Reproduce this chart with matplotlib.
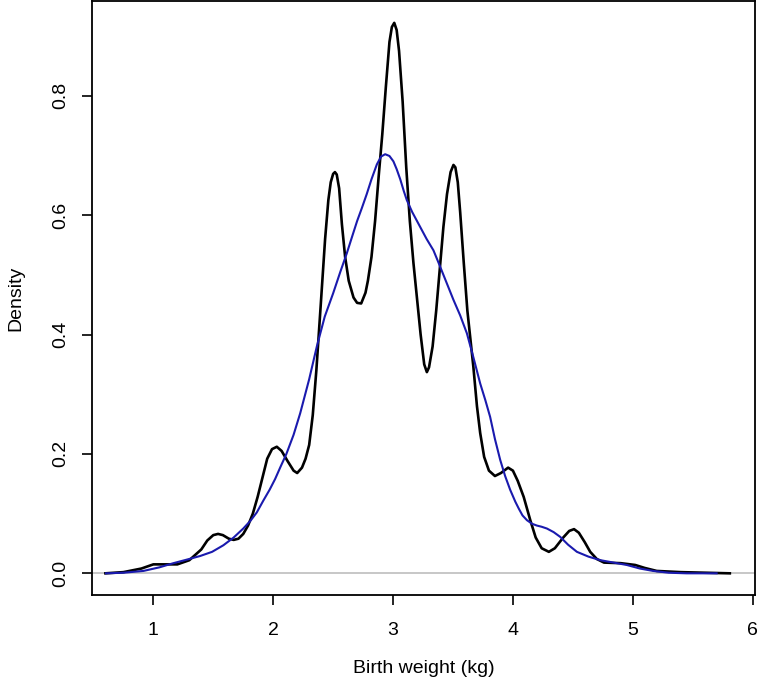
import matplotlib
matplotlib.use("Agg")
import matplotlib.pyplot as plt

plt.rcParams['font.family'] = ['Liberation Sans', 'DejaVu Sans']

# black density curve (narrow bandwidth)
black_x = [0.60, 0.75, 0.90, 1.00, 1.10, 1.20, 1.30, 1.40, 1.45, 1.50, 1.54, 1.58,
           1.63, 1.67, 1.71, 1.75, 1.79, 1.83, 1.87, 1.91, 1.95, 1.99, 2.03, 2.07,
           2.12, 2.17, 2.20, 2.24, 2.27, 2.30, 2.33, 2.36, 2.40, 2.433, 2.46, 2.48,
           2.50, 2.515, 2.53, 2.55, 2.573, 2.60, 2.63, 2.67, 2.70, 2.734, 2.77, 2.79,
           2.82, 2.85, 2.88, 2.91, 2.94, 2.97, 2.99, 3.01, 3.03, 3.05, 3.08, 3.11,
           3.14, 3.17, 3.20, 3.23, 3.26, 3.282, 3.30, 3.33, 3.36, 3.39, 3.42, 3.45,
           3.48, 3.504, 3.52, 3.54, 3.56, 3.59, 3.62, 3.67, 3.70, 3.727, 3.76, 3.80,
           3.85, 3.90, 3.96, 4.00, 4.04, 4.09, 4.145, 4.19, 4.24, 4.30, 4.35, 4.42,
           4.47, 4.51, 4.55, 4.60, 4.645, 4.70, 4.76, 4.90, 5.02, 5.10, 5.20, 5.40,
           5.81]
black_y = [0.000, 0.002, 0.008, 0.015, 0.015, 0.015, 0.022, 0.040, 0.055, 0.064, 0.066, 0.064,
           0.058, 0.056, 0.058, 0.066, 0.080, 0.100, 0.128, 0.160, 0.192, 0.208, 0.212, 0.205,
           0.188, 0.172, 0.168, 0.177, 0.192, 0.215, 0.265, 0.340, 0.460, 0.560, 0.625, 0.655,
           0.669, 0.672, 0.668, 0.645, 0.585, 0.530, 0.490, 0.462, 0.453, 0.452, 0.470, 0.490,
           0.530, 0.590, 0.665, 0.735, 0.815, 0.890, 0.915, 0.922, 0.910, 0.875, 0.790, 0.680,
           0.590, 0.520, 0.460, 0.400, 0.350, 0.337, 0.345, 0.380, 0.440, 0.510, 0.580, 0.635,
           0.672, 0.684, 0.680, 0.655, 0.605, 0.520, 0.440, 0.346, 0.280, 0.235, 0.195, 0.172,
           0.163, 0.168, 0.177, 0.172, 0.155, 0.128, 0.089, 0.060, 0.042, 0.036, 0.042, 0.060,
           0.071, 0.074, 0.068, 0.052, 0.036, 0.024, 0.018, 0.017, 0.014, 0.009, 0.004, 0.002,
           0.000]

# blue density curve (wider bandwidth)
blue_x = [0.605, 0.75, 0.917, 1.05, 1.167, 1.28, 1.39, 1.49, 1.584, 1.67, 1.75, 1.81,
          1.863, 1.918, 1.97, 2.016, 2.06, 2.11, 2.17, 2.225, 2.30, 2.364, 2.43, 2.50,
          2.56, 2.614, 2.66, 2.70, 2.74, 2.78, 2.82, 2.865, 2.90, 2.934, 2.97, 3.003,
          3.03, 3.06, 3.09, 3.115, 3.16, 3.20, 3.24, 3.28, 3.337, 3.38, 3.42, 3.46,
          3.504, 3.56, 3.616, 3.67, 3.727, 3.77, 3.81, 3.85, 3.894, 3.935, 3.977, 4.02,
          4.05, 4.08, 4.117, 4.16, 4.20, 4.24, 4.284, 4.34, 4.395, 4.46, 4.534, 4.63,
          4.73, 4.84, 4.95, 5.06, 5.17, 5.30, 5.45, 5.70]
blue_y = [0.000, 0.001, 0.004, 0.010, 0.017, 0.023, 0.029, 0.036, 0.047, 0.060, 0.075, 0.088,
          0.102, 0.122, 0.140, 0.158, 0.178, 0.200, 0.232, 0.268, 0.325, 0.380, 0.430, 0.469,
          0.505, 0.536, 0.565, 0.590, 0.612, 0.635, 0.660, 0.685, 0.698, 0.702, 0.699, 0.690,
          0.677, 0.660, 0.640, 0.625, 0.605, 0.590, 0.575, 0.560, 0.541, 0.520, 0.500, 0.480,
          0.458, 0.432, 0.402, 0.362, 0.318, 0.290, 0.262, 0.225, 0.190, 0.163, 0.140, 0.120,
          0.108, 0.097, 0.089, 0.083, 0.080, 0.078, 0.075, 0.069, 0.061, 0.048, 0.036, 0.028,
          0.022, 0.018, 0.014, 0.008, 0.004, 0.001, 0.000, 0.000]

x_ticks = [1, 2, 3, 4, 5, 6]
y_ticks = [0.0, 0.2, 0.4, 0.6, 0.8]

fig = plt.figure(figsize=(7.59, 6.90), dpi=100)
ax = fig.add_axes([92 / 759, 95 / 690, 663 / 759, 594 / 690])

ax.axhline(0, color='#bebebe', linewidth=1.2, zorder=1)
ax.plot(black_x, black_y, color='black', linewidth=1.9, zorder=2)
ax.plot(blue_x, blue_y, color='#1a1aae', linewidth=1.5, zorder=3)

ax.set_xlim(0.488, 6.02)
ax.set_ylim(-0.0363, 0.9586)
ax.set_xticks(x_ticks)
ax.set_xticklabels([str(t) for t in x_ticks])
ax.set_yticks(y_ticks)
ax.set_yticklabels([f"{t:.1f}" for t in y_ticks], rotation=90, va='center')

for s in ax.spines.values():
    s.set_linewidth(1.3)
ax.tick_params(axis='both', length=7.5, width=1.2, labelsize=14)
ax.tick_params(axis='x', pad=12)
ax.tick_params(axis='y', pad=9)

ax.set_xlabel('Birth weight (kg)', fontsize=14, labelpad=15)
ax.set_ylabel('Density', fontsize=14, labelpad=20)

fig.savefig('out.png', dpi=100)
